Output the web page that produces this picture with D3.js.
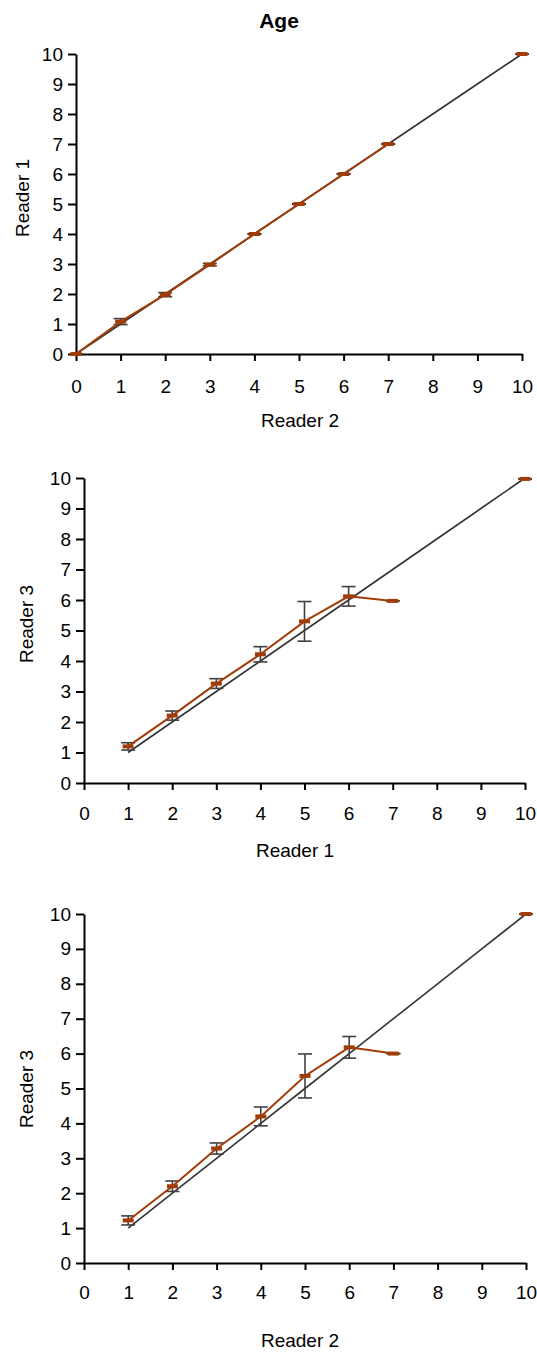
<!DOCTYPE html>
<html>
<head>
<meta charset="utf-8">
<script src="https://cdn.jsdelivr.net/npm/d3@7"></script>
<style>
  body { margin: 0; background: #fff; }
  svg { display: block; font-family: Arial, "Liberation Sans", sans-serif; }
</style>
</head>
<body>
<div id="chart"></div>
<script>
// Categorias do eixo X e rótulos dos eixos
const categories = [0, 1, 2, 3, 4, 5, 6, 7, 8, 9, 10];
const yTicks = [0, 1, 2, 3, 4, 5, 6, 7, 8, 9, 10];

// Painel 1: Reader 1 x Reader 2
const p1Mean = [0, 1.08, 1.98, 2.98, 4.0, 5.0, 6.0, 7.0, null, null, 10.0];
const p1Sd   = [0, 0.10, 0.07, 0.04, 0.01, 0.01, 0.01, 0.01, null, null, 0];
const p1Ref  = [0, 1, 2, 3, 4, 5, 6, 7, 8, 9, 10];

// Painel 2: Reader 3 x Reader 1
const p2Mean = [null, 1.2, 2.21, 3.26, 4.22, 5.3, 6.12, 5.97, null, null, 9.97];
const p2Sd   = [null, 0.12, 0.15, 0.16, 0.25, 0.65, 0.32, 0, null, null, 0];
const p2Ref  = [null, 1, 2, 3, 4, 5, 6, 7, 8, 9, 10];

// Painel 3: Reader 3 x Reader 2
const p3Mean = [null, 1.22, 2.2, 3.28, 4.2, 5.36, 6.18, 6.0, null, null, 10.0];
const p3Sd   = [null, 0.13, 0.15, 0.16, 0.27, 0.63, 0.31, 0, null, null, 0];
const p3Ref  = [null, 1, 2, 3, 4, 5, 6, 7, 8, 9, 10];

const RED = "#A23C06", DARK = "#333333", ERR = "#404040";

const svg = d3.select("#chart")
    .append("svg")
    .attr("width", 537)
    .attr("height", 1353);

// Título
svg.append("text")
    .attr("x", 279).attr("y", 28)
    .attr("text-anchor", "middle")
    .style("font-size", "21px").style("font-weight", "bold")
    .text("Age");

function drawPanel(p) {
    const x = d3.scaleLinear().domain([0, 10]).range([p.left, p.right]);
    const y = d3.scaleLinear().domain([0, 10]).range([p.bottom, p.top]);
    const g = svg.append("g");

    // Eixo X
    const xAxis = g.append("g")
        .attr("transform", `translate(0,${p.bottom})`)
        .call(d3.axisBottom(x).tickValues(categories).tickSizeOuter(0).tickSizeInner(7).tickPadding(p.xPad));
    // Eixo Y
    const yAxis = g.append("g")
        .attr("transform", `translate(${p.left},0)`)
        .call(d3.axisLeft(y).tickValues(yTicks).tickSizeOuter(0).tickSizeInner(8).tickPadding(5));

    [xAxis, yAxis].forEach(a => {
        a.select(".domain").attr("stroke", "#000").attr("stroke-width", 2);
        a.selectAll(".tick line").attr("stroke", "#000").attr("stroke-width", 2);
        a.selectAll(".tick text").attr("fill", "#000").style("font-size", "19px").style("font-family", "Arial, 'Liberation Sans', sans-serif");
    });

    // Títulos dos eixos
    g.append("text")
        .attr("x", p.xTitleX).attr("y", p.xTitleY)
        .attr("text-anchor", "middle")
        .style("font-size", "19px")
        .text(p.xTitle);
    g.append("text")
        .attr("transform", `translate(${p.yTitleX},${p.yTitleY}) rotate(-90)`)
        .attr("text-anchor", "middle")
        .attr("dy", "0.35em")
        .style("font-size", "19px")
        .text(p.yTitle);

    const refData = categories.map((c, i) => ({c, v: p.ref[i]}));
    const meanData = categories.map((c, i) => ({c, v: p.mean[i], sd: p.sd[i]}));

    // Linha de referência (identidade)
    g.append("path")
        .datum(refData)
        .attr("fill", "none")
        .attr("stroke", DARK)
        .attr("stroke-width", 1.6)
        .attr("d", d3.line().defined(d => d.v != null).x(d => x(d.c)).y(d => y(d.v)));

    // Barras de erro
    const eb = g.selectAll(".err")
        .data(meanData.filter(d => d.v != null))
        .join("g").attr("class", "err")
        .attr("stroke", ERR).attr("stroke-width", 1.6);
    eb.append("line")
        .attr("x1", d => x(d.c)).attr("x2", d => x(d.c))
        .attr("y1", d => y(d.v - d.sd)).attr("y2", d => y(d.v + d.sd));
    eb.append("line")
        .attr("x1", d => x(d.c) - 7).attr("x2", d => x(d.c) + 7)
        .attr("y1", d => y(d.v + d.sd)).attr("y2", d => y(d.v + d.sd));
    eb.append("line")
        .attr("x1", d => x(d.c) - 7).attr("x2", d => x(d.c) + 7)
        .attr("y1", d => y(d.v - d.sd)).attr("y2", d => y(d.v - d.sd));

    // Linha das médias
    g.append("path")
        .datum(meanData)
        .attr("fill", "none")
        .attr("stroke", RED)
        .attr("stroke-width", 2)
        .attr("d", d3.line().defined(d => d.v != null).x(d => x(d.c)).y(d => y(d.v)));

    // Marcadores (traço)
    g.selectAll(".mk")
        .data(meanData.filter(d => d.v != null))
        .join("rect").attr("class", "mk")
        .attr("x", d => x(d.c) - 5.5)
        .attr("y", d => y(d.v) - 2)
        .attr("width", 11).attr("height", 4)
        .attr("fill", RED);
}

drawPanel({left: 76, right: 522, top: 54, bottom: 354, xPad: 19,
    mean: p1Mean, sd: p1Sd, ref: p1Ref,
    xTitle: "Reader 2", xTitleX: 300, xTitleY: 427,
    yTitle: "Reader 1", yTitleX: 22, yTitleY: 198});

drawPanel({left: 84, right: 525, top: 478, bottom: 783, xPad: 17,
    mean: p2Mean, sd: p2Sd, ref: p2Ref,
    xTitle: "Reader 1", xTitleX: 295, xTitleY: 857,
    yTitle: "Reader 3", yTitleX: 26, yTitleY: 624});

drawPanel({left: 84, right: 526, top: 914, bottom: 1263, xPad: 16,
    mean: p3Mean, sd: p3Sd, ref: p3Ref,
    xTitle: "Reader 2", xTitleX: 300, xTitleY: 1347,
    yTitle: "Reader 3", yTitleX: 26, yTitleY: 1089});
</script>
</body>
</html>
